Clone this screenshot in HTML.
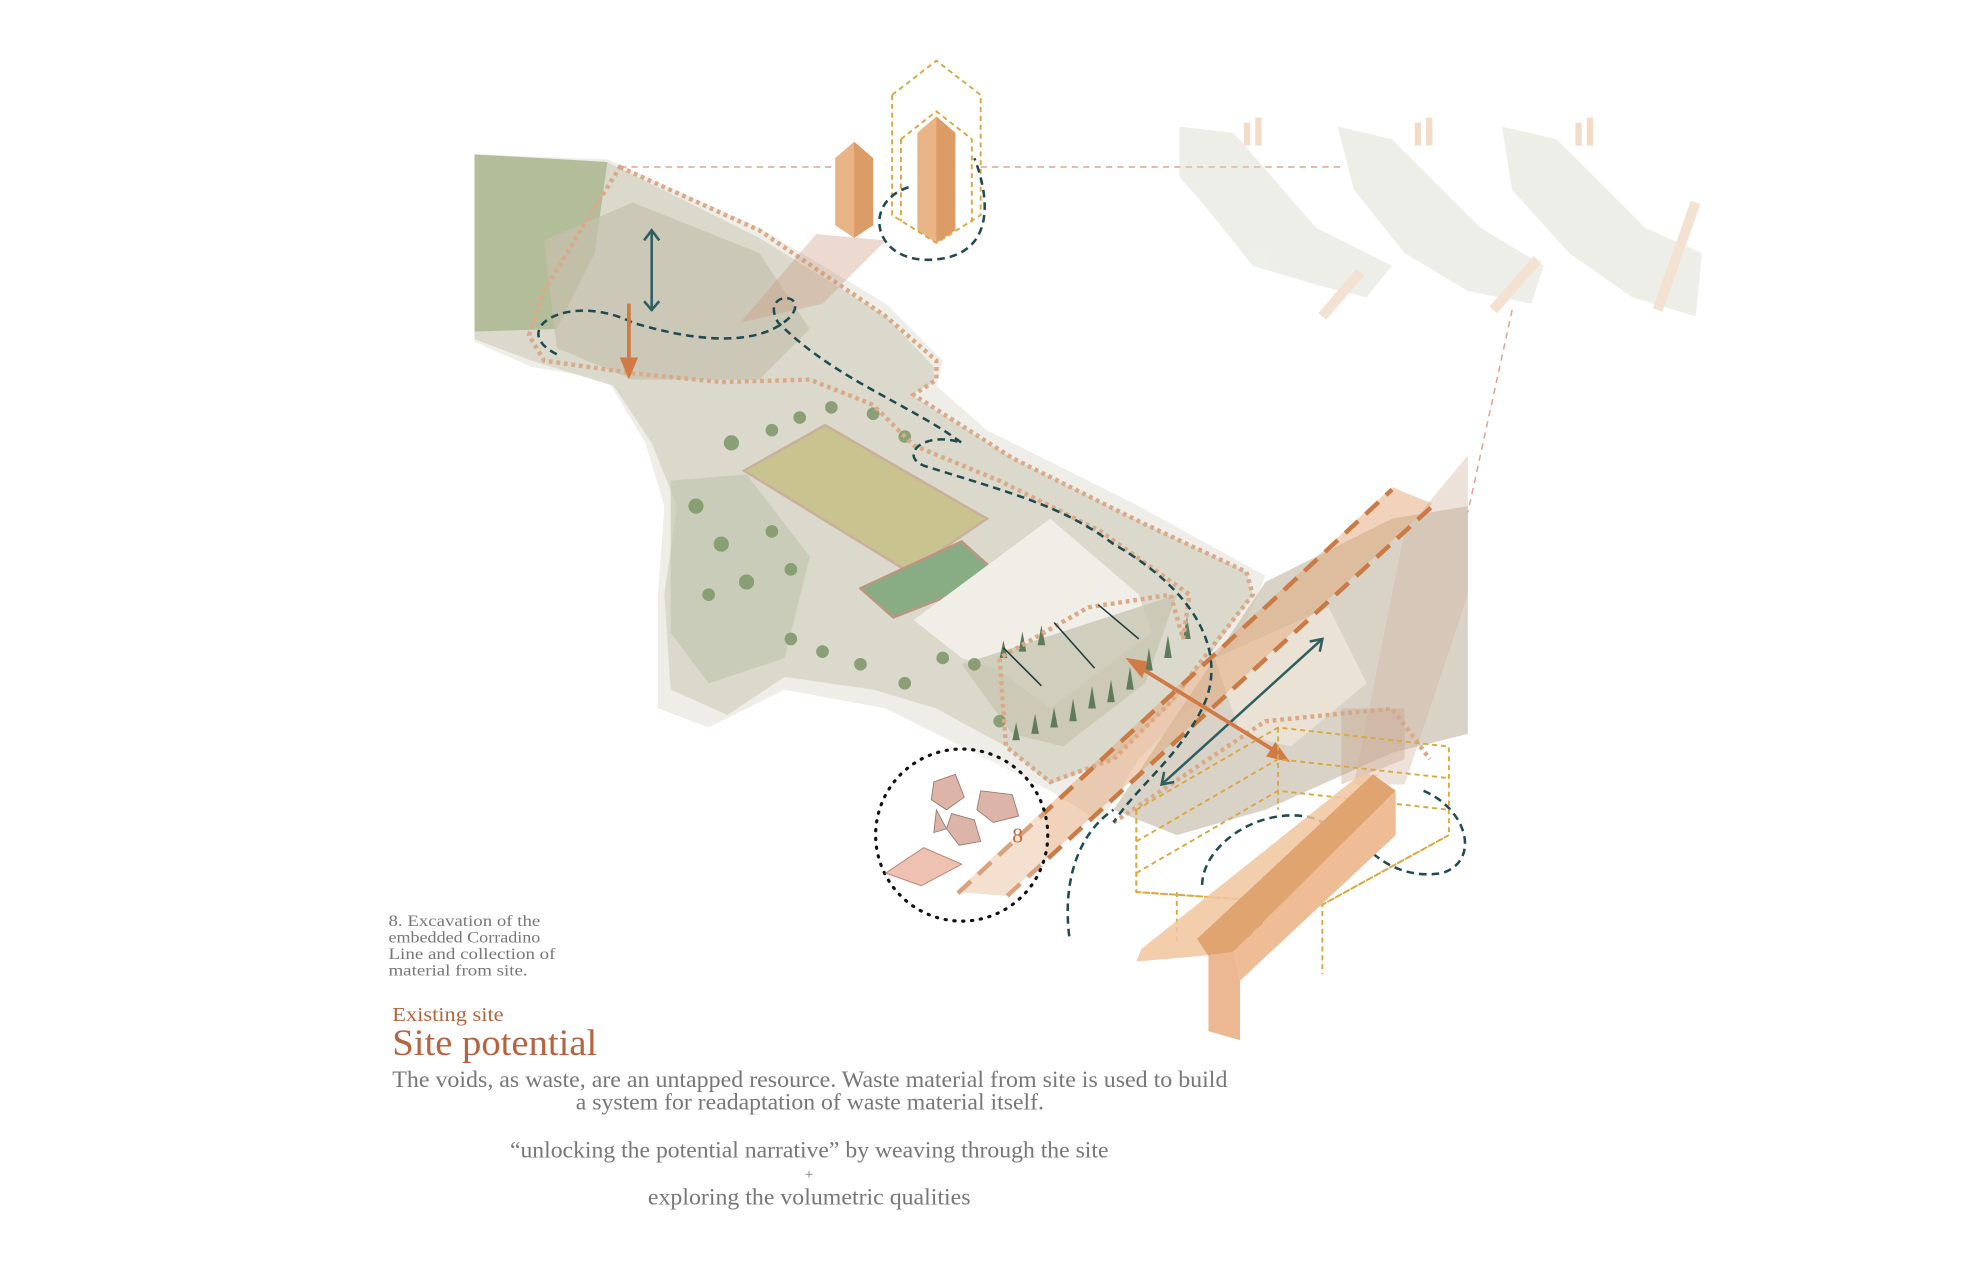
<!DOCTYPE html>
<html><head><meta charset="utf-8"><style>
html,body{margin:0;padding:0;background:#fff}
svg{display:block}
text{font-family:"Liberation Serif",serif}
</style></head><body>
<svg width="1974" height="1283" viewBox="0 0 1560 1014" preserveAspectRatio="none" xmlns="http://www.w3.org/2000/svg">
<rect width="1560" height="1014" fill="#fff"/>
<!-- pale ground haze -->
<path d="M375 270 L420 290 L480 300 L510 350 L525 400 L520 470 L520 560 L560 575 L620 545 L700 560 L760 590 L830 625 L870 650 L900 600 L960 540 L990 480 L1000 455 L900 400 L780 340 L740 305 L745 285 L700 240 L600 180 L480 126 L375 122 Z" fill="#eeede8"/>
<!-- main site -->
<path d="M375 122 L480 128 L600 188 L700 250 L738 290 L738 302 L720 312 L800 362 L900 412 L985 452 L990 470 L960 512 L930 552 L880 600 L830 620 L795 590 L740 560 L690 545 L620 535 L575 565 L530 545 L525 470 L535 400 L515 350 L485 305 L420 285 L375 268 Z" fill="#d6d5c7" opacity="0.85"/>
<path d="M375 122 L480 128 L470 200 L440 260 L375 262 Z" fill="#a7b388" opacity="0.75"/>
<path d="M430 190 L500 160 L600 200 L640 260 L600 300 L500 300 L440 275 Z" fill="#c6c1ae" opacity="0.7"/>
<path d="M530 380 L590 375 L640 440 L620 520 L560 540 L530 500 Z" fill="#bcc3aa" opacity="0.6"/>
<!-- football field -->
<path d="M588 372 L652 336 L780 410 L718 452 Z" fill="#c9c48f" stroke="#c9b09a" stroke-width="2"/>
<path d="M680 465 L760 428 L790 455 L706 488 Z" fill="#88ad84" stroke="#b89680" stroke-width="2"/>
<path d="M722 490 L830 410 L900 470 L910 500 L830 560 L790 530 L760 520 Z" fill="#f1eee8"/>
<path d="M760 525 L930 470 L905 540 L840 590 L800 580 Z" fill="#c8c5b2" opacity="0.8"/>
<!-- trees -->
<g fill="#7d9668" opacity="0.85">
<circle cx="578" cy="350" r="6"/><circle cx="610" cy="340" r="5"/><circle cx="632" cy="330" r="5"/><circle cx="657" cy="322" r="5"/><circle cx="690" cy="327" r="5"/><circle cx="715" cy="345" r="5"/>
<circle cx="550" cy="400" r="6"/><circle cx="570" cy="430" r="6"/><circle cx="590" cy="460" r="6"/><circle cx="560" cy="470" r="5"/><circle cx="610" cy="420" r="5"/><circle cx="625" cy="450" r="5"/>
<circle cx="625" cy="505" r="5"/><circle cx="650" cy="515" r="5"/><circle cx="680" cy="525" r="5"/><circle cx="715" cy="540" r="5"/><circle cx="745" cy="520" r="5"/><circle cx="770" cy="525" r="5"/><circle cx="790" cy="570" r="5"/>
</g>
<g fill="#5f7b5a"><path d="M800 585 l3 -14 l3 14z M815 580 l3 -16 l3 16z M830 575 l3 -16 l3 16z M845 570 l3 -18 l3 18z M860 560 l3 -18 l3 18z M875 555 l3 -18 l3 18z M890 545 l3 -18 l3 18z M905 530 l3 -18 l3 18z M920 520 l3 -18 l3 18z M935 505 l3 -18 l3 18z M790 520 l3 -14 l3 14z M805 515 l3 -16 l3 16z M820 510 l3 -16 l3 16z"/></g>
<!-- right urban area -->
<path d="M880 640 L1000 460 L1100 410 L1160 400 L1160 580 L1100 595 L1000 640 L930 660 Z" fill="#c9bfae" opacity="0.7"/>
<path d="M960 520 L1050 480 L1080 540 L1020 590 L980 580 Z" fill="#ebe4d6" opacity="0.9"/>
<path d="M1110 420 L1160 360 L1160 470 L1110 620 L1070 620 Z" fill="#d2b6a3" opacity="0.4"/>
<!-- orange dotted outlines -->
<g fill="none" stroke="#d9aa88" stroke-width="3.5" stroke-dasharray="3 3">
<path d="M490 132 L600 182 L700 250 L740 285 L740 300 L722 312 L800 362 L900 412 L985 452 L990 470 L955 515 L925 555 L880 600 L830 618 L795 590 L790 520 L860 480 L925 470 L935 505 L940 470 L870 420 L790 380 L722 352 L690 320 L640 300 L570 302 L500 295 L430 285 L418 265 L430 230 L460 180 Z"/>
<path d="M880 650 L1000 570 L1100 560 L1130 600"/>
</g>
<!-- shadow beam from columns -->
<path d="M645 185 L700 190 L650 240 L585 255 Z" fill="#c9957c" opacity="0.35"/>
<path d="M1060 560 L1110 560 L1110 600 L1060 620 Z" fill="#c9a48c" opacity="0.4"/>
<!-- diagonal orange stripe -->
<path d="M755 705 L1100 385 L1132 398 L795 708 Z" fill="#e3a878" opacity="0.5"/>
<g stroke="#c97a45" stroke-width="3.5" stroke-dasharray="14 8" fill="none">
<line x1="757" y1="706" x2="1100" y2="387"/><line x1="796" y1="708" x2="1132" y2="400"/>
</g>
<!-- columns -->
<path d="M660 125 L675 112 L690 125 L690 178 L675 188 L660 178 Z" fill="#e8b486"/>
<path d="M675 112 L690 125 L690 178 L675 188 Z" fill="#dc9c68"/>
<path d="M725 105 L740 92 L755 105 L755 182 L740 192 L725 182 Z" fill="#e8b486"/>
<path d="M740 92 L755 105 L755 182 L740 192 Z" fill="#dc9c68"/>
<g fill="none" stroke="#d9a842" stroke-width="1.5" stroke-dasharray="4 3">
<path d="M705 75 L740 48 L775 75 L775 170 L740 192 L705 170 Z"/>
<path d="M712 110 L740 88 L768 110 L768 178"/><line x1="712" y1="110" x2="712" y2="175"/>
</g>
<!-- connectors -->
<g stroke="#e0a590" stroke-width="1.2" stroke-dasharray="5 4" fill="none">
<line x1="490" y1="132" x2="660" y2="132"/><line x1="775" y1="132" x2="1060" y2="132"/><line x1="1195" y1="245" x2="1160" y2="405"/>
</g>
<!-- thumbnails -->
<g opacity="0.4">
<path d="M932 100 L975 105 L1040 180 L1100 210 L1080 235 L1040 225 L990 210 L950 160 L932 140 Z" fill="#d3d7c7"/>
<path d="M1057 100 L1100 110 L1170 180 L1220 210 L1210 240 L1160 230 L1110 200 L1070 150 Z" fill="#d3d7c7"/>
<path d="M1187 100 L1230 110 L1300 180 L1345 200 L1340 250 L1290 235 L1240 200 L1195 150 Z" fill="#d3d7c7"/>
<path d="M1045 250 L1075 215 M1180 245 L1215 205 M1310 245 L1340 160" stroke="#e3b68e" stroke-width="8"/>
<rect x="983" y="97" width="5" height="18" fill="#e3a874"/><rect x="992" y="93" width="5" height="22" fill="#e3a874"/>
<rect x="1118" y="97" width="5" height="18" fill="#e3a874"/><rect x="1127" y="93" width="5" height="22" fill="#e3a874"/>
<rect x="1245" y="97" width="5" height="18" fill="#e3a874"/><rect x="1254" y="93" width="5" height="22" fill="#e3a874"/>
</g>
<!-- teal dashed paths -->
<g fill="none" stroke="#1f4a4f" stroke-width="2" stroke-dasharray="6 4">
<path d="M718 148 C680 160 690 210 740 205 C790 200 780 150 770 125"/>
<path d="M440 280 C400 260 450 230 500 255 C550 270 600 275 625 250 C640 230 600 230 615 255 C660 300 720 320 760 350 C730 340 710 360 730 368 C800 390 840 400 880 430 C950 470 970 520 950 560 C930 600 900 620 880 650"/>
<path d="M845 740 C840 700 850 660 880 640"/>
<path d="M985 760 C980 740 990 730 1020 720 C1070 700 1070 650 1030 645 C990 640 950 670 950 700"/>
<path d="M1125 625 C1160 640 1170 680 1140 690 C1110 695 1090 680 1080 670"/>
</g>
<g stroke="#2f5e60" stroke-width="2" fill="none">
<line x1="515" y1="182" x2="515" y2="245"/><path d="M509 190 L515 182 L521 190 M509 238 L515 245 L521 238"/>
<line x1="918" y1="620" x2="1045" y2="505"/><path d="M920 610 L918 620 L928 618 M1035 507 L1045 505 L1043 515"/>
</g>
<g stroke="#1f3a3d" stroke-width="1.2" fill="none">
<line x1="793" y1="512" x2="823" y2="542"/><line x1="833" y1="492" x2="865" y2="528"/><line x1="868" y1="478" x2="900" y2="505"/>
</g>
<g stroke="#d17a45" stroke-width="3" fill="#d17a45">
<line x1="497" y1="240" x2="497" y2="290"/><path d="M492 284 L497 296 L502 284 Z"/>
<line x1="900" y1="527" x2="1010" y2="595"/><path d="M893 522 L905 524 L902 533 Z M1016 600 L1003 597 L1008 589 Z"/>
</g>
<!-- bottom right grid and beam -->
<g fill="none" stroke="#d9a842" stroke-width="1.5" stroke-dasharray="4 3">
<path d="M898 640 L1010 575 L1145 590 L1145 660 L1045 715 L898 705 Z"/>
<path d="M898 665 L1010 600 L1145 615 M898 690 L1010 625 L1145 640 M898 705 L1045 715 L1145 660"/>
<line x1="898" y1="640" x2="898" y2="705"/><line x1="1045" y1="650" x2="1045" y2="770"/><line x1="1010" y1="575" x2="1010" y2="640"/><line x1="930" y1="705" x2="930" y2="745"/>
</g>
<path d="M898 760 L902 750 L1075 612 L1090 612 L1078 620 L958 740 L955 755 Z" fill="#f0c59f" opacity="0.85"/>
<path d="M946 742 L1085 612 L1103 625 L975 752 L958 760 Z" fill="#e0a470"/>
<path d="M975 752 L1103 625 L1103 660 L980 775 Z" fill="#eebd95"/>
<path d="M955 755 L975 752 L980 775 L980 822 L955 815 Z" fill="#ebb892"/>
<!-- circle detail -->
<circle cx="760" cy="660" r="68" fill="#fff" fill-opacity="0.3" stroke="#111" stroke-width="2.5" stroke-dasharray="1 6" stroke-linecap="round"/>
<g fill="#dcb4a8" stroke="#9b7a70" stroke-width="0.7">
<path d="M738 618 L755 612 L762 630 L748 640 L736 632 Z"/><path d="M775 625 L800 628 L805 645 L785 650 L772 640 Z"/><path d="M752 643 L770 648 L775 665 L758 668 L748 655 Z"/><path d="M740 640 L748 655 L738 658 Z"/>
</g>
<path d="M700 690 L730 670 L760 683 L728 700 Z" fill="#eec2b2" stroke="#c48474" stroke-width="0.8"/>
<text x="800" y="666" font-size="17" fill="#c0693f">8</text>
<!-- text -->
<g fill="#777">
<text x="307" y="732" font-size="12.5" textLength="120" lengthAdjust="spacingAndGlyphs">8. Excavation of the</text>
<text x="307" y="745" font-size="12.5" textLength="120" lengthAdjust="spacingAndGlyphs">embedded Corradino</text>
<text x="307" y="758" font-size="12.5" textLength="132" lengthAdjust="spacingAndGlyphs">Line and collection of</text>
<text x="307" y="771" font-size="12.5" textLength="110" lengthAdjust="spacingAndGlyphs">material from site.</text>
</g>
<text x="310" y="807" font-size="16" fill="#b8633f" textLength="88" lengthAdjust="spacingAndGlyphs">Existing site</text>
<text x="310" y="834" font-size="29" fill="#b8633f" textLength="162" lengthAdjust="spacingAndGlyphs">Site potential</text>
<g fill="#777" font-size="18">
<text x="310" y="859" textLength="660" lengthAdjust="spacingAndGlyphs">The voids, as waste, are an untapped resource. Waste material from site is used to build</text>
<text x="455" y="877" textLength="370" lengthAdjust="spacingAndGlyphs">a system for readaptation of waste material itself.</text>
<text x="403" y="915" textLength="473" lengthAdjust="spacingAndGlyphs">“unlocking the potential narrative” by weaving through the site</text>
<text x="636" y="932" font-size="12">+</text>
<text x="512" y="952" textLength="255" lengthAdjust="spacingAndGlyphs">exploring the volumetric qualities</text>
</g>
</svg>
</body></html>
